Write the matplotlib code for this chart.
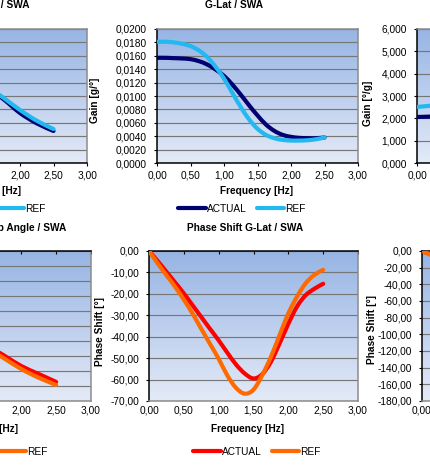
import numpy as np
import matplotlib
matplotlib.use('Agg')
import matplotlib.pyplot as plt
from matplotlib.path import Path
from matplotlib.patches import PathPatch
from matplotlib.ticker import FuncFormatter, MultipleLocator

# ---- data ----
freq = [0.0, 0.125, 0.25, 0.375, 0.5, 0.625, 0.75, 0.875, 1.0, 1.125, 1.25,
        1.375, 1.5, 1.625, 1.75, 1.875, 2.0, 2.125, 2.25, 2.375, 2.5]
freq_coarse = [0.0, 0.25, 0.5, 0.75, 1.0, 1.25, 1.5, 1.75, 2.0, 2.25, 2.5]

# gain G-Lat / SWA [g/deg]
glat_gain_actual = [0.0157, 0.0157, 0.01565, 0.0156, 0.0155, 0.0152, 0.0147,
                    0.01395, 0.0130, 0.0117, 0.0102, 0.0086, 0.0071, 0.00575,
                    0.0048, 0.0042, 0.0039, 0.00375, 0.0037, 0.0037, 0.0038]
glat_gain_ref = [0.0181, 0.0181, 0.0180, 0.0178, 0.01745, 0.0168, 0.0158,
                 0.01435, 0.0126, 0.01045, 0.00835, 0.0065, 0.0051, 0.0042,
                 0.0037, 0.00345, 0.00335, 0.00335, 0.0034, 0.00355, 0.0038]

# phase shift G-Lat / SWA [deg]
glat_phase_actual = [0.0, -4.7, -9.7, -14.7, -19.8, -25.3, -30.8, -36.3, -41.7,
                     -47.5, -53.0, -57.2, -59.5, -57.5, -51.7, -43.1, -34.0,
                     -25.9, -20.6, -17.6, -15.3]
glat_phase_ref = [0.0, -5.8, -11.3, -16.7, -22.7, -29.2, -36.3, -43.3, -50.3,
                  -58.1, -63.9, -66.6, -64.7, -58.0, -49.4, -39.2, -29.1,
                  -21.3, -15.0, -11.1, -8.8]

# left column (only the right end is visible)
left_gain_actual = [0.152, 0.151, 0.149, 0.145, 0.139, 0.128, 0.113, 0.0955,
                    0.0746, 0.0592, 0.0478]
left_gain_ref = [0.150, 0.149, 0.148, 0.145, 0.140, 0.130, 0.115, 0.0975,
                 0.0791, 0.0631, 0.0507]
left_phase_actual = [0.0, -12.0, -24.0, -35.0, -45.0, -54.0, -62.5, -69.6,
                     -76.7, -82.0, -87.3]
left_phase_ref = [0.0, -13.0, -26.0, -37.5, -47.5, -56.0, -64.3, -71.5,
                  -78.7, -84.5, -89.3]

# right column (only the left end is visible)
right_gain_actual = [2.06, 2.10, 2.30, 2.70, 3.10, 3.30, 3.10, 2.70, 2.30, 2.00, 1.80]
right_gain_ref = [2.51, 2.60, 2.90, 3.40, 3.90, 4.10, 3.80, 3.20, 2.70, 2.40, 2.20]
right_phase_actual = [0.0, -8.5, -18.0, -30.0, -45.0, -65.0, -90.0, -110.0,
                      -125.0, -135.0, -142.0]
right_phase_ref = [0.0, -9.0, -19.0, -32.0, -50.0, -72.0, -98.0, -118.0,
                   -132.0, -142.0, -150.0]

W, H = 430, 472
plt.rcParams['font.family'] = ['Liberation Sans', 'DejaVu Sans']
FS = 7.3

fig = plt.figure(figsize=(W / 100, H / 100), dpi=100)
fig.patch.set_facecolor('white')


def rect(x0, y0, x1, y1):
    return [x0 / W, 1 - y1 / H, (x1 - x0) / W, (y1 - y0) / H]


def ftext(x, y, s, **kw):
    kw.setdefault('fontsize', FS)
    fig.text(x / W, 1 - y / H, s, **kw)


grad = np.linspace(0, 1, 256)[:, None, None]
top_c = np.array([150, 180, 228]) / 255
bot_c = np.array([228, 234, 247]) / 255
gradient = top_c * (1 - grad) + bot_c * grad


def comma(decimals):
    return FuncFormatter(lambda v, p: f"{v:.{decimals}f}".replace('.', ','))


def smooth_line(ax, x, y, color):
    # Excel-style "smoothed line": cubic Bezier segments through the points
    p = np.column_stack([x, y]).astype(float)
    ext = np.vstack([p[0], p, p[-1]])
    verts = [p[0]]
    codes = [Path.MOVETO]
    for i in range(len(p) - 1):
        c1 = ext[i + 1] + (ext[i + 2] - ext[i]) / 6
        c2 = ext[i + 2] - (ext[i + 3] - ext[i + 1]) / 6
        verts += [c1, c2, ext[i + 2]]
        codes += [Path.CURVE4] * 3
    ax.add_patch(PathPatch(Path(verts, codes), fill=False, edgecolor=color,
                           lw=3, capstyle='round', joinstyle='round', zorder=3))


def panel(box, ylim, ystep, ydec, series, axis_at_top=False):
    ax = fig.add_axes(rect(*box))
    ax.imshow(gradient, extent=[0, 1, 0, 1], transform=ax.transAxes,
              aspect='auto', zorder=0)
    for x, y, c in series:
        smooth_line(ax, x, y, c)
    ax.set_xlim(0, 3)
    ax.set_ylim(*ylim)
    ax.xaxis.set_major_locator(MultipleLocator(0.5))
    ax.yaxis.set_major_locator(MultipleLocator(ystep))
    ax.xaxis.set_major_formatter(comma(2))
    ax.yaxis.set_major_formatter(comma(ydec))
    ax.grid(axis='y', color='#777777', lw=0.85)
    ax.tick_params(axis='y', direction='out', length=2.2, width=0.8,
                   pad=5, labelsize=FS)
    for s in ax.spines.values():
        s.set_color('#8c8c8c')
        s.set_linewidth(1.1)
    ax.spines['left'].set_color('black')
    if axis_at_top:
        ax.spines['top'].set_color('black')
        ax.tick_params(axis='x', bottom=False, top=True, direction='in',
                       length=2.2, width=0.8, pad=3.5, labelsize=FS)
    else:
        ax.spines['bottom'].set_color('black')
        ax.tick_params(axis='x', direction='out', length=2.2, width=0.8,
                       pad=3, labelsize=FS)
    return ax


NAVY, SKY, RED, ORANGE = '#000070', '#22b8f0', '#ff0000', '#ff6a00'

# top row
panel((-114, 29, 87, 163), (0, 0.2), 0.02, 3,
      [(freq_coarse, left_gain_actual, NAVY), (freq_coarse, left_gain_ref, SKY)])
panel((157, 29, 358, 163), (0, 0.02), 0.002, 4,
      [(freq, glat_gain_actual, NAVY), (freq, glat_gain_ref, SKY)])
panel((417, 29, 618, 163), (0, 6), 1, 3,
      [(freq_coarse, right_gain_actual, NAVY), (freq_coarse, right_gain_ref, SKY)])

# bottom row
panel((-118, 251, 91, 401), (-100, 0), 10, 2,
      [(freq_coarse, left_phase_actual, RED), (freq_coarse, left_phase_ref, ORANGE)],
      axis_at_top=True)
panel((149, 251, 358, 401), (-70, 0), 10, 2,
      [(freq, glat_phase_actual, RED), (freq, glat_phase_ref, ORANGE)],
      axis_at_top=True)
panel((422, 251, 631, 401), (-180, 0), 20, 2,
      [(freq_coarse, right_phase_actual, RED), (freq_coarse, right_phase_ref, ORANGE)],
      axis_at_top=True)

# titles
ftext(30, 7.5, "Gain Slip Angle / SWA", ha='right', va='baseline', weight='bold')
ftext(205, 7.5, "G-Lat / SWA", ha='left', va='baseline', weight='bold')
ftext(66, 231, "Phase Shift Slip Angle / SWA", ha='right', va='baseline', weight='bold')
ftext(245.5, 231, "Phase Shift G-Lat / SWA", ha='center', va='baseline', weight='bold')

# axis labels
ftext(21, 191, "Frequency [Hz]", ha='right', va='center', weight='bold')
ftext(257, 191, "Frequency [Hz]", ha='center', va='center', weight='bold')
ftext(18, 429, "Frequency [Hz]", ha='right', va='center', weight='bold')
ftext(248, 429, "Frequency [Hz]", ha='center', va='center', weight='bold')
ftext(95, 100, "Gain [g/°]", ha='center', va='center', rotation=90, weight='bold')
ftext(368, 103, "Gain [°/g]", ha='center', va='center', rotation=90, weight='bold')
ftext(100, 332, "Phase Shift [°]", ha='center', va='center', rotation=90, weight='bold')
ftext(372, 329, "Phase Shift [°]", ha='center', va='center', rotation=90, weight='bold')


def legend(cx, cy, c1, c2):
    h = [plt.Line2D([], [], color=c1, lw=3, solid_capstyle='round'),
         plt.Line2D([], [], color=c2, lw=3, solid_capstyle='round')]
    fig.legend(h, ['ACTUAL', 'REF'], loc='center',
               bbox_to_anchor=(cx / W, 1 - cy / H), ncol=2, frameon=False,
               fontsize=FS, handlelength=2.7, handletextpad=0.1,
               columnspacing=1.0, borderpad=0.2)


legend(-18, 209, NAVY, SKY)
legend(242, 209, NAVY, SKY)
legend(-16, 452, RED, ORANGE)
legend(257, 452, RED, ORANGE)

fig.savefig('out.png', dpi=100)
